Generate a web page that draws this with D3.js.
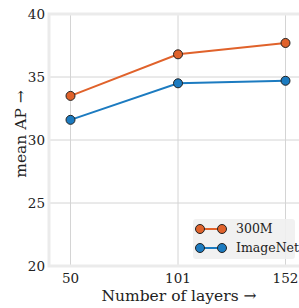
<!DOCTYPE html>
<html>
<head>
<meta charset="utf-8">
<script src="https://cdn.jsdelivr.net/npm/d3@7"></script>
<style>
  body { margin: 0; background: #fff; }
</style>
</head>
<body>
<svg id="svg" width="299" height="308" font-family="'DejaVu Serif', serif" fill="#222"></svg>
<script>
var layers = [50, 101, 152];
var seriesNames = ['300M', 'ImageNet'];
var ap300M = [33.5, 36.8, 37.7];
var apImageNet = [31.6, 34.5, 34.7];
var yTicks = [20, 25, 30, 35, 40];

var colors = ['#e0622b', '#1c7bc0'];
var series = [ap300M, apImageNet];

var svg = d3.select('#svg');
var plot = {left: 49, top: 14, right: 307, bottom: 266};

var x = d3.scalePoint()
    .domain(layers)
    .range([plot.left, plot.right])
    .padding(0.2);
var y = d3.scaleLinear()
    .domain([20, 40])
    .range([plot.bottom, plot.top]);

// grid
svg.append('g')
    .selectAll('line.h')
    .data(yTicks.slice(1, -1))
    .enter().append('line')
    .attr('x1', plot.left).attr('x2', plot.right)
    .attr('y1', function(d) { return y(d); })
    .attr('y2', function(d) { return y(d); })
    .attr('stroke', '#d4d4d4').attr('stroke-width', 1);
svg.append('g')
    .selectAll('line.v')
    .data(layers)
    .enter().append('line')
    .attr('x1', function(d) { return x(d); })
    .attr('x2', function(d) { return x(d); })
    .attr('y1', plot.top).attr('y2', plot.bottom)
    .attr('stroke', '#d4d4d4').attr('stroke-width', 1);

// spines
svg.append('path')
    .attr('d', 'M' + plot.right + ',' + plot.top + 'H' + plot.left +
        'V' + plot.bottom + 'H' + plot.right)
    .attr('fill', 'none')
    .attr('stroke', '#ebebeb')
    .attr('stroke-width', 3);

// tick labels
svg.append('g')
    .selectAll('text')
    .data(yTicks)
    .enter().append('text')
    .attr('x', 45)
    .attr('y', function(d) { return y(d); })
    .attr('dy', '0.35em')
    .attr('text-anchor', 'end')
    .attr('font-size', 13.5)
    .text(function(d) { return d; });
svg.append('g')
    .selectAll('text')
    .data(layers)
    .enter().append('text')
    .attr('x', function(d) { return x(d); })
    .attr('y', 283)
    .attr('text-anchor', 'middle')
    .attr('font-size', 13.5)
    .text(function(d) { return d; });

// axis labels
svg.append('text')
    .attr('x', 179)
    .attr('y', 301)
    .attr('text-anchor', 'middle')
    .attr('font-size', 15.5)
    .text('Number of layers \u2192');
svg.append('text')
    .attr('transform', 'translate(26,134) rotate(-90)')
    .attr('text-anchor', 'middle')
    .attr('font-size', 15.5)
    .text('mean AP \u2192');

// lines
var line = d3.line()
    .x(function(d, i) { return x(layers[i]); })
    .y(function(d) { return y(d); });

series.forEach(function(vals, k) {
    svg.append('path')
        .datum(vals)
        .attr('d', line)
        .attr('fill', 'none')
        .attr('stroke', colors[k])
        .attr('stroke-width', 2);
    svg.append('g')
        .selectAll('circle')
        .data(vals)
        .enter().append('circle')
        .attr('cx', function(d, i) { return x(layers[i]); })
        .attr('cy', function(d) { return y(d); })
        .attr('r', 4.5)
        .attr('fill', colors[k])
        .attr('stroke', '#222')
        .attr('stroke-width', 1);
});

// legend
var legend = svg.append('g').attr('transform', 'translate(193,219)');
legend.append('rect')
    .attr('width', 102).attr('height', 40)
    .attr('rx', 3)
    .attr('fill', '#f0f0f0').attr('fill-opacity', 0.9);
seriesNames.forEach(function(name, k) {
    var row = legend.append('g').attr('transform', 'translate(0,' + (10 + k * 19) + ')');
    row.append('line')
        .attr('x1', 7).attr('x2', 29)
        .attr('stroke', colors[k]).attr('stroke-width', 2);
    [7, 29].forEach(function(cx) {
        row.append('circle')
            .attr('cx', cx).attr('r', 4.5)
            .attr('fill', colors[k])
            .attr('stroke', '#222').attr('stroke-width', 1);
    });
    row.append('text')
        .attr('x', 43).attr('dy', '0.35em')
        .attr('font-size', 12.5)
        .text(name);
});
</script>
</body>
</html>
